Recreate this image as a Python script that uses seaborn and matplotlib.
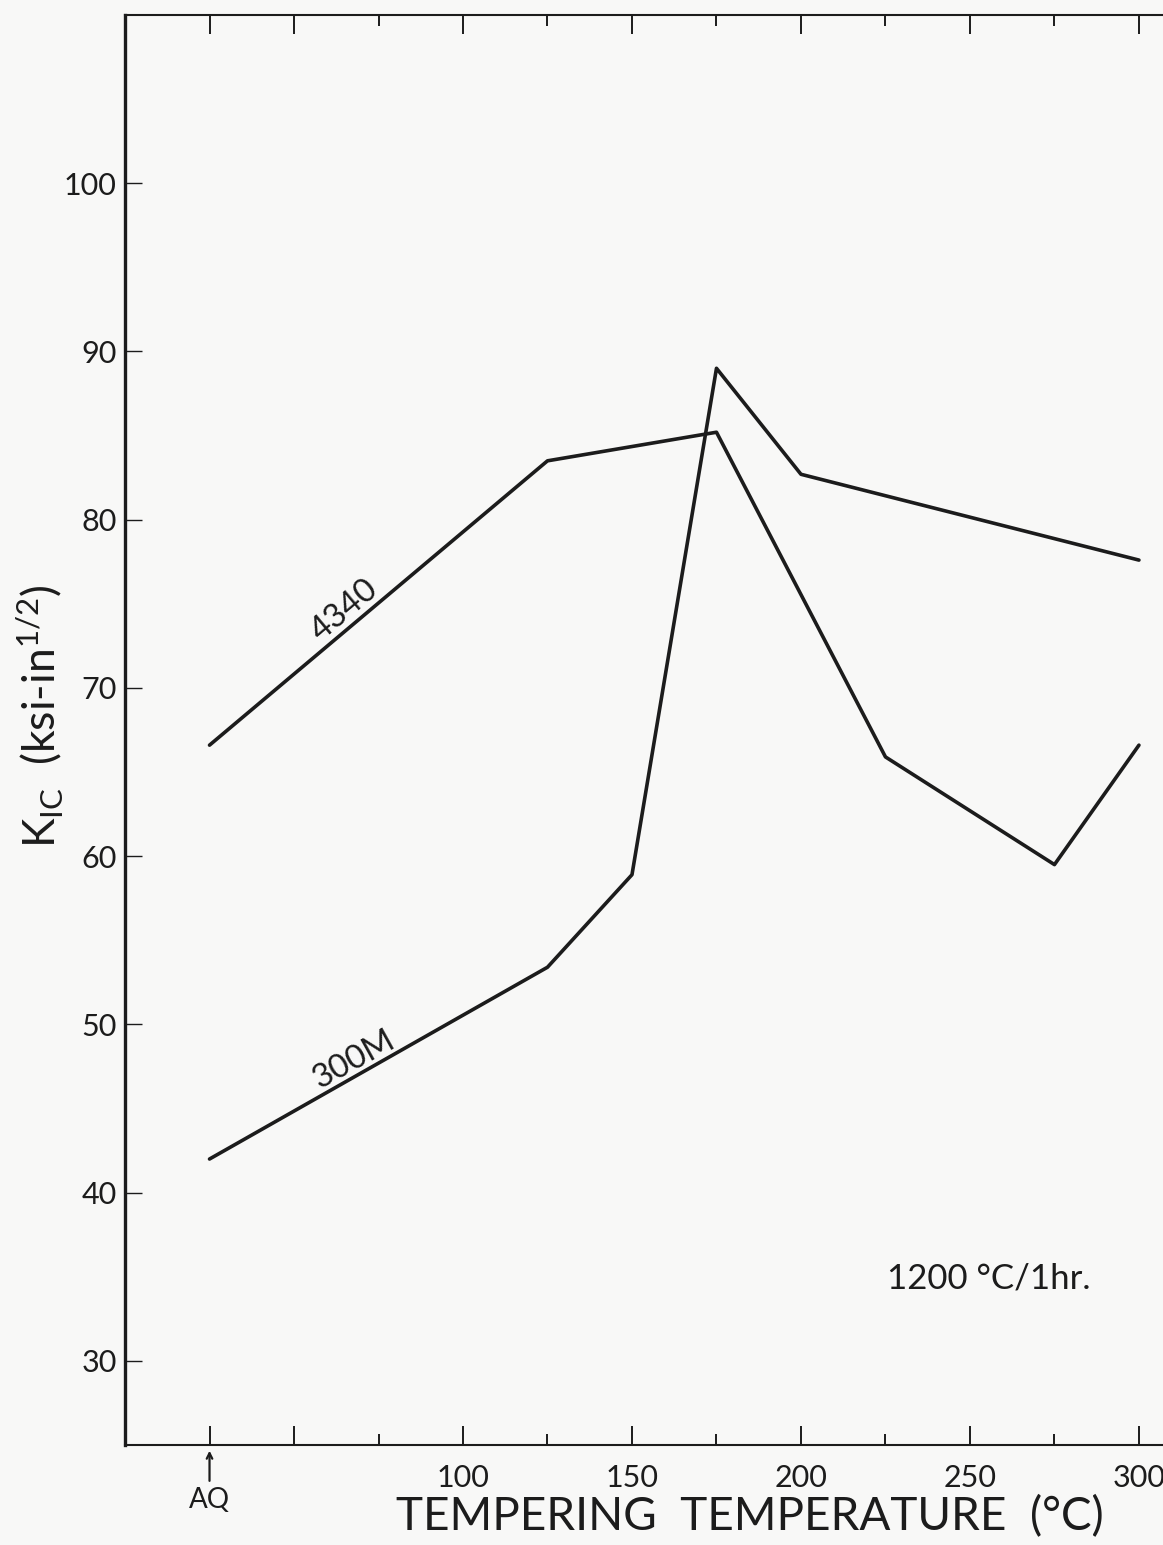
import numpy as np
import pandas as pd
import matplotlib
matplotlib.use('Agg')
import matplotlib.pyplot as plt
import seaborn as sns

# tempering temperature (C); 25 = as-quenched (AQ)
temp_4340 = [25, 125, 175, 225, 275, 300]
kic_4340 = [66.6, 83.5, 85.2, 65.9, 59.5, 66.6]

temp_300m = [25, 125, 150, 175, 200, 300]
kic_300m = [42.0, 53.4, 58.9, 89.0, 82.7, 77.6]

xtick_major = [25, 50, 100, 150, 200, 250, 300]
xtick_labels = ['', '', '100', '150', '200', '250', '300']
xtick_minor = [75, 125, 175, 225, 275]
yticks = [30, 40, 50, 60, 70, 80, 90, 100]

df = pd.concat([
    pd.DataFrame({'temp': temp_4340, 'kic': kic_4340, 'steel': '4340'}),
    pd.DataFrame({'temp': temp_300m, 'kic': kic_300m, 'steel': '300M'}),
])

sns.set_style('ticks')
plt.rcParams['font.family'] = ['Lato', 'DejaVu Sans']
ink = '#1c1c1c'
paper = '#f8f8f7'

fig = plt.figure(figsize=(11.63, 15.45), dpi=100, facecolor=paper)
ax = fig.add_axes([0.1075, 0.0647, 0.959, 0.9256], facecolor=paper)

for steel in ['4340', '300M']:
    sns.lineplot(data=df[df['steel'] == steel], x='temp', y='kic', ax=ax,
                 color=ink, linewidth=2.6, estimator=None, sort=False)

ax.set_xlim(0, 330)
ax.set_ylim(25, 110)

ax.set_xticks(xtick_major)
ax.set_xticklabels(xtick_labels)
ax.set_xticks(xtick_minor, minor=True)
ax.set_yticks(yticks)
ax.set_yticklabels([str(v) for v in yticks])

ax.tick_params(axis='x', which='major', direction='in', length=14, width=1.4,
               top=True, pad=14, labelsize=22, colors=ink)
ax.tick_params(axis='x', which='minor', direction='in', length=8, width=1.4,
               top=True, colors=ink)
ax.tick_params(axis='y', which='major', direction='in', length=12, width=1.0,
               pad=6, labelsize=22, colors=ink)

for side in ['left', 'bottom', 'top']:
    ax.spines[side].set_color(ink)
ax.spines['left'].set_linewidth(2.4)
ax.spines['bottom'].set_linewidth(1.5)
ax.spines['top'].set_linewidth(1.5)
ax.spines['right'].set_visible(False)

ax.set_xlabel('TEMPERING  TEMPERATURE  (°C)', fontsize=33, color=ink)
ax.set_ylabel(r'K$_{\mathregular{IC}}$  (ksi-in$^{\mathregular{1/2}}$)', fontsize=32,
              color=ink)
ax.yaxis.set_label_coords(-0.053, 0.51)
ax.xaxis.set_label_coords(0.56, -0.035)

# AQ marker below the axis
trans = ax.get_xaxis_transform()
ax.annotate('', xy=(25, -0.002), xytext=(25, -0.027), xycoords=trans,
            textcoords=trans,
            arrowprops=dict(arrowstyle='->', color=ink, lw=1.6), annotation_clip=False)
ax.text(25, -0.029, 'AQ', transform=trans, ha='center', va='top', fontsize=20,
        color=ink)

# curve labels sitting just above their lines
ax.annotate('4340', xy=(68, 73.9), xytext=(-3, 3.6), textcoords='offset points',
            rotation=40, ha='center', va='baseline', fontsize=24, color=ink,
            rotation_mode='anchor')
ax.annotate('300M', xy=(70, 47.1), xytext=(-2.2, 4.0), textcoords='offset points',
            rotation=29, ha='center', va='baseline', fontsize=24, color=ink,
            rotation_mode='anchor')
ax.text(225.5, 34.9, '1200 °C/1hr.', ha='left', va='center', fontsize=25,
        color=ink)

fig.savefig('out.png', dpi=100, facecolor=paper)
